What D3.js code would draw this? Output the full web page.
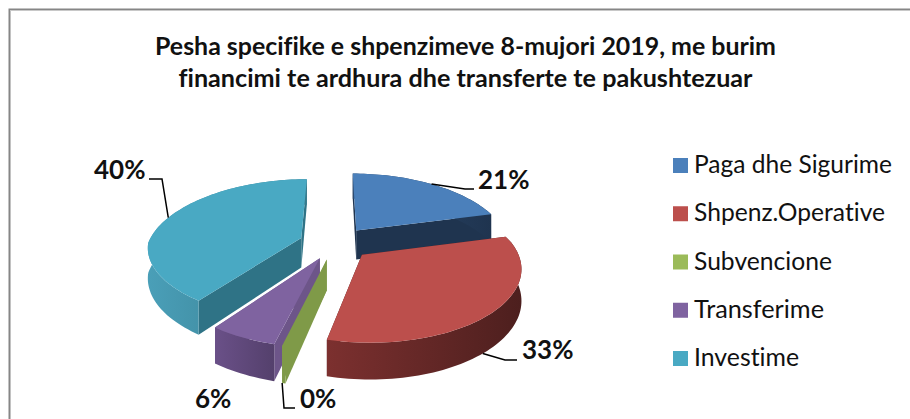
<!DOCTYPE html>
<html><head><meta charset="utf-8">
<style>html,body{margin:0;padding:0;background:#fff}svg{display:block}text{font-family:Lato,Carlito,"Open Sans",sans-serif;font-variant-ligatures:none}</style>
<script src="https://cdn.jsdelivr.net/npm/d3@7"></script></head>
<body><div id="c"></div>
<script>
const categories=["Paga dhe Sigurime","Shpenz.Operative","Subvencione","Transferime","Investime"];
const values=[20.9,32.9,0.3,6.0,39.9];
const titleLines=["Pesha specifike e shpenzimeve 8-mujori 2019, me burim","financimi te ardhura dhe transferte te pakushtezuar"];
const topColors=["#4b80bb","#bc4f4c","#9bbb59","#7f63a0","#49a9c3"];
const cutColors=["#1f344f","#4e1f1e","#7f9a48","#6d5589","#2f7386"];
const rimLeft=["#2c4a70","#7c302f","#7f9a48","#6a5088","#4a9fb8"];
const rimRight=["#1f344f","#4d1f1e","#7f9a48","#54406c","#367a8c"];
const titleWidths=[621,574], legendWidths=[198,191,138,130,105];

const W=910,H=419,cx=335,cy=243,R=153,tilt=0.455,persp=0.16,perspBack=0.2,perspFront=0.14,skew=0.025,expl=36,depth=30;
const svg=d3.select("#c").append("svg").attr("width",W).attr("height",H);
const defs=svg.append("defs");
const line=d3.line().curve(d3.curveLinearClosed);

svg.append("path").attr("d",`M9.5,${H}V9.5H${W}`).attr("fill","none").attr("stroke","#868686").attr("stroke-width",2);
svg.append("rect").attr("x",10).attr("y",10).attr("width",W-10).attr("height",1).attr("fill","#c8c8c8");

svg.selectAll("text.t").data(titleLines).join("text").attr("class","t")
 .attr("x",465.5).attr("y",(d,i)=>55+i*32).attr("text-anchor","middle")
 .attr("textLength",(d,i)=>titleWidths[i]).attr("lengthAdjust","spacingAndGlyphs")
 .attr("font-weight",700).attr("font-size",24.3).attr("fill","#111").text(d=>d);

const arcs=d3.pie().sort(null).value(d=>d)(values);
const total=d3.sum(values);

function project(X,F,Z){
 const s=1/(1-persp*F/R), sx=1/(1-(F<0?perspBack:perspFront)*F/R);
 return [cx+X*sx+(F>0?skew*F:0), cy+tilt*F*s+Z*s];
}
function ptOn(a,r,th,Z){
 const mid=(a.startAngle+a.endAngle)/2;
 const ox=expl*Math.sin(mid), of=-expl*Math.cos(mid);
 return project(ox+r*Math.sin(th), of-r*Math.cos(th), Z);
}
function arcAngles(a){const n=Math.max(2,Math.ceil((a.endAngle-a.startAngle)/0.03));
 return d3.range(n+1).map(i=>a.startAngle+(a.endAngle-a.startAngle)*i/n);}

const order=[0,4,1,3,2];
order.forEach(i=>{
 const a=arcs[i], g=svg.append("g"), ths=arcAngles(a);
 const wall=th=>[ptOn(a,0,0,0),ptOn(a,R,th,0),ptOn(a,R,th,depth),ptOn(a,0,0,depth)];
 g.append("path").attr("d",line(wall(a.startAngle))).attr("fill",cutColors[i]);
 g.append("path").attr("d",line(wall(a.endAngle))).attr("fill",cutColors[i]);
 const rimTop=ths.map(t=>ptOn(a,R,t,0)), rimBot=ths.map(t=>ptOn(a,R,t,depth)).reverse();
 const rim=rimTop.concat(rimBot);
 const ext=d3.extent(rim,p=>p[0]);
 const id="g"+i;
 const gr=defs.append("linearGradient").attr("id",id).attr("gradientUnits","userSpaceOnUse")
  .attr("x1",ext[0]).attr("x2",ext[1]).attr("y1",0).attr("y2",0);
 gr.append("stop").attr("offset",0).attr("stop-color",rimLeft[i]);
 gr.append("stop").attr("offset",1).attr("stop-color",rimRight[i]);
 g.append("path").attr("d",line(rim)).attr("fill",`url(#${id})`);
 if(i!==2) g.append("path").attr("d",line([ptOn(a,0,0,0)].concat(rimTop))).attr("fill",topColors[i]);
});

const labelX=[478,522,300,195,94], labelY=[189,359,408,408,179];
const anchorTh=[0.5,0.54,null,null,0.5], // fraction along each slice's arc where the leader begins
      elbows=[[465,189],[505,360],[284,408],null,[162,179]],
      ends=[[474,189],[517,360],[295,408],null,[149,179]];
const pct=d3.format(".0%");
arcs.forEach((a,i)=>{
 if(elbows[i]){
  const th=anchorTh[i]==null?a.endAngle:a.startAngle+(a.endAngle-a.startAngle)*anchorTh[i];
  const p=ptOn(a,R,th,(i===1||i===2)?depth:0);
  svg.append("path").attr("d",d3.line()([p,elbows[i],ends[i]])).attr("fill","none").attr("stroke","#000").attr("stroke-width",1.5);
 }
 svg.append("text").attr("x",labelX[i]).attr("y",labelY[i]).attr("font-weight",700).attr("font-size",26).attr("fill","#111")
  .text(pct(a.value/total));
});

const legendY=d3.scalePoint().domain(categories).range([158,351]);
const lg=svg.selectAll("g.l").data(categories).join("g").attr("class","l").attr("transform",d=>`translate(673,${legendY(d)})`);
lg.append("rect").attr("width",15).attr("height",15).attr("fill",(d,i)=>topColors[i]);
lg.append("text").attr("x",21).attr("y",15).attr("font-size",24.5).attr("fill","#111")
 .attr("textLength",(d,i)=>legendWidths[i]).attr("lengthAdjust","spacingAndGlyphs").text(d=>d);
</script></body></html>
